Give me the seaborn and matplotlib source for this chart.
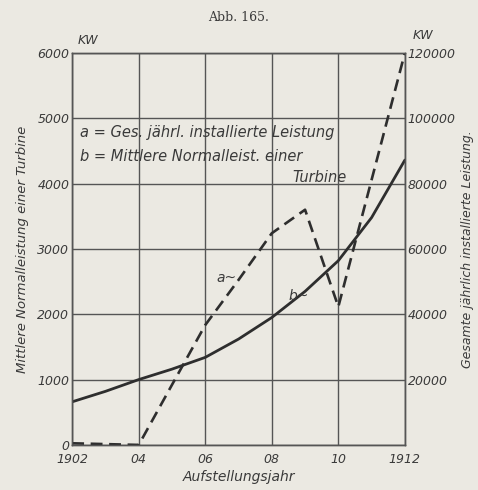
import numpy as np
import pandas as pd
import matplotlib
matplotlib.use('Agg')
import matplotlib.pyplot as plt
import seaborn as sns

# --- Daten ---
years_b = [1902, 1903, 1904, 1905, 1906, 1907, 1908, 1909, 1910, 1911, 1912]
leistung_b = [660, 820, 1000, 1160, 1340, 1620, 1950, 2350, 2820, 3480, 4360]  # KW je Turbine

years_a = [1902, 1904, 1905, 1906, 1907, 1908, 1909, 1910, 1912]
leistung_a = [500, 0, 18400, 36700, 50500, 64800, 72000, 42300, 120000]  # KW gesamt

x_ticks = [1902, 1904, 1906, 1908, 1910, 1912]
x_labels = ['1902', '04', '06', '08', '10', '1912']
left_ticks = [0, 1000, 2000, 3000, 4000, 5000, 6000]
right_ticks = [20000, 40000, 60000, 80000, 100000, 120000]

PAPER = '#ebe9e2'
INK = '#2e2e2e'
TXT = '#3a3a3a'

sns.set_style('white')
plt.rcParams['font.family'] = ['DejaVu Sans']

df_b = pd.DataFrame({'jahr': years_b, 'kw': leistung_b})
df_a = pd.DataFrame({'jahr': years_a, 'kw': leistung_a})

fig = plt.figure(figsize=(4.78, 4.9), dpi=100, facecolor=PAPER)
ax = fig.add_axes([0.151, 0.092, 0.696, 0.8])
ax.set_facecolor(PAPER)
ax2 = ax.twinx()

sns.lineplot(data=df_b, x='jahr', y='kw', ax=ax, color=INK, linewidth=2.0)
sns.lineplot(data=df_a, x='jahr', y='kw', ax=ax2, color=INK, linewidth=1.9,
             linestyle=(0, (4.5, 2.5)))

ax.set_xlim(1902, 1912)
ax.set_ylim(0, 6000)
ax2.set_ylim(0, 120000)

ax.set_xticks(x_ticks)
ax.set_xticklabels(x_labels, fontsize=9, style='italic', color=TXT)
ax.set_yticks(left_ticks)
ax.set_yticklabels([str(t) for t in left_ticks], fontsize=9, style='italic', color=TXT)
ax2.set_yticks(right_ticks)
ax2.set_yticklabels([str(t) for t in right_ticks], fontsize=9, style='italic', color=TXT)

ax.tick_params(axis='y', length=0, pad=2)
ax.tick_params(axis='x', length=0, pad=6)
ax2.tick_params(length=0, pad=2)

ax.grid(True, color='#555555', linewidth=1.0)
ax.set_axisbelow(True)
for a in (ax, ax2):
    for s in a.spines.values():
        s.set_color('#555555')
        s.set_linewidth(1.0)

ax.set_xlabel('Aufstellungsjahr', fontsize=10, style='italic', color=TXT, labelpad=3)
ax.set_ylabel('Mittlere Normalleistung einer Turbine', fontsize=9.5, style='italic',
              color=TXT, labelpad=6)
ax2.set_ylabel('Gesamte jährlich installierte Leistung.', fontsize=9, style='italic',
               color=TXT, labelpad=4)

fig.text(0.5, 0.965, 'Abb. 165.', ha='center', va='center', fontsize=9,
         family='DejaVu Serif', color=TXT)
fig.text(0.185, 0.918, 'KW', ha='center', va='center', fontsize=9, style='italic', color=TXT)
fig.text(0.885, 0.928, 'KW', ha='center', va='center', fontsize=9, style='italic', color=TXT)

ax.text(1902.25, 4780, 'a = Ges. jährl. installierte Leistung', fontsize=10.5,
        style='italic', color=TXT, va='center')
ax.text(1902.25, 4410, 'b = Mittlere Normalleist. einer', fontsize=10.5,
        style='italic', color=TXT, va='center')
ax.text(1910.26, 4090, 'Turbine', fontsize=10.5, style='italic', color=TXT,
        va='center', ha='right')

ax.text(1906.35, 2560, 'a~', fontsize=10, style='italic', color=TXT, va='center')
ax.text(1908.5, 2280, 'b~', fontsize=10, style='italic', color=TXT, va='center')

fig.savefig('out.png', dpi=100, facecolor=PAPER)
